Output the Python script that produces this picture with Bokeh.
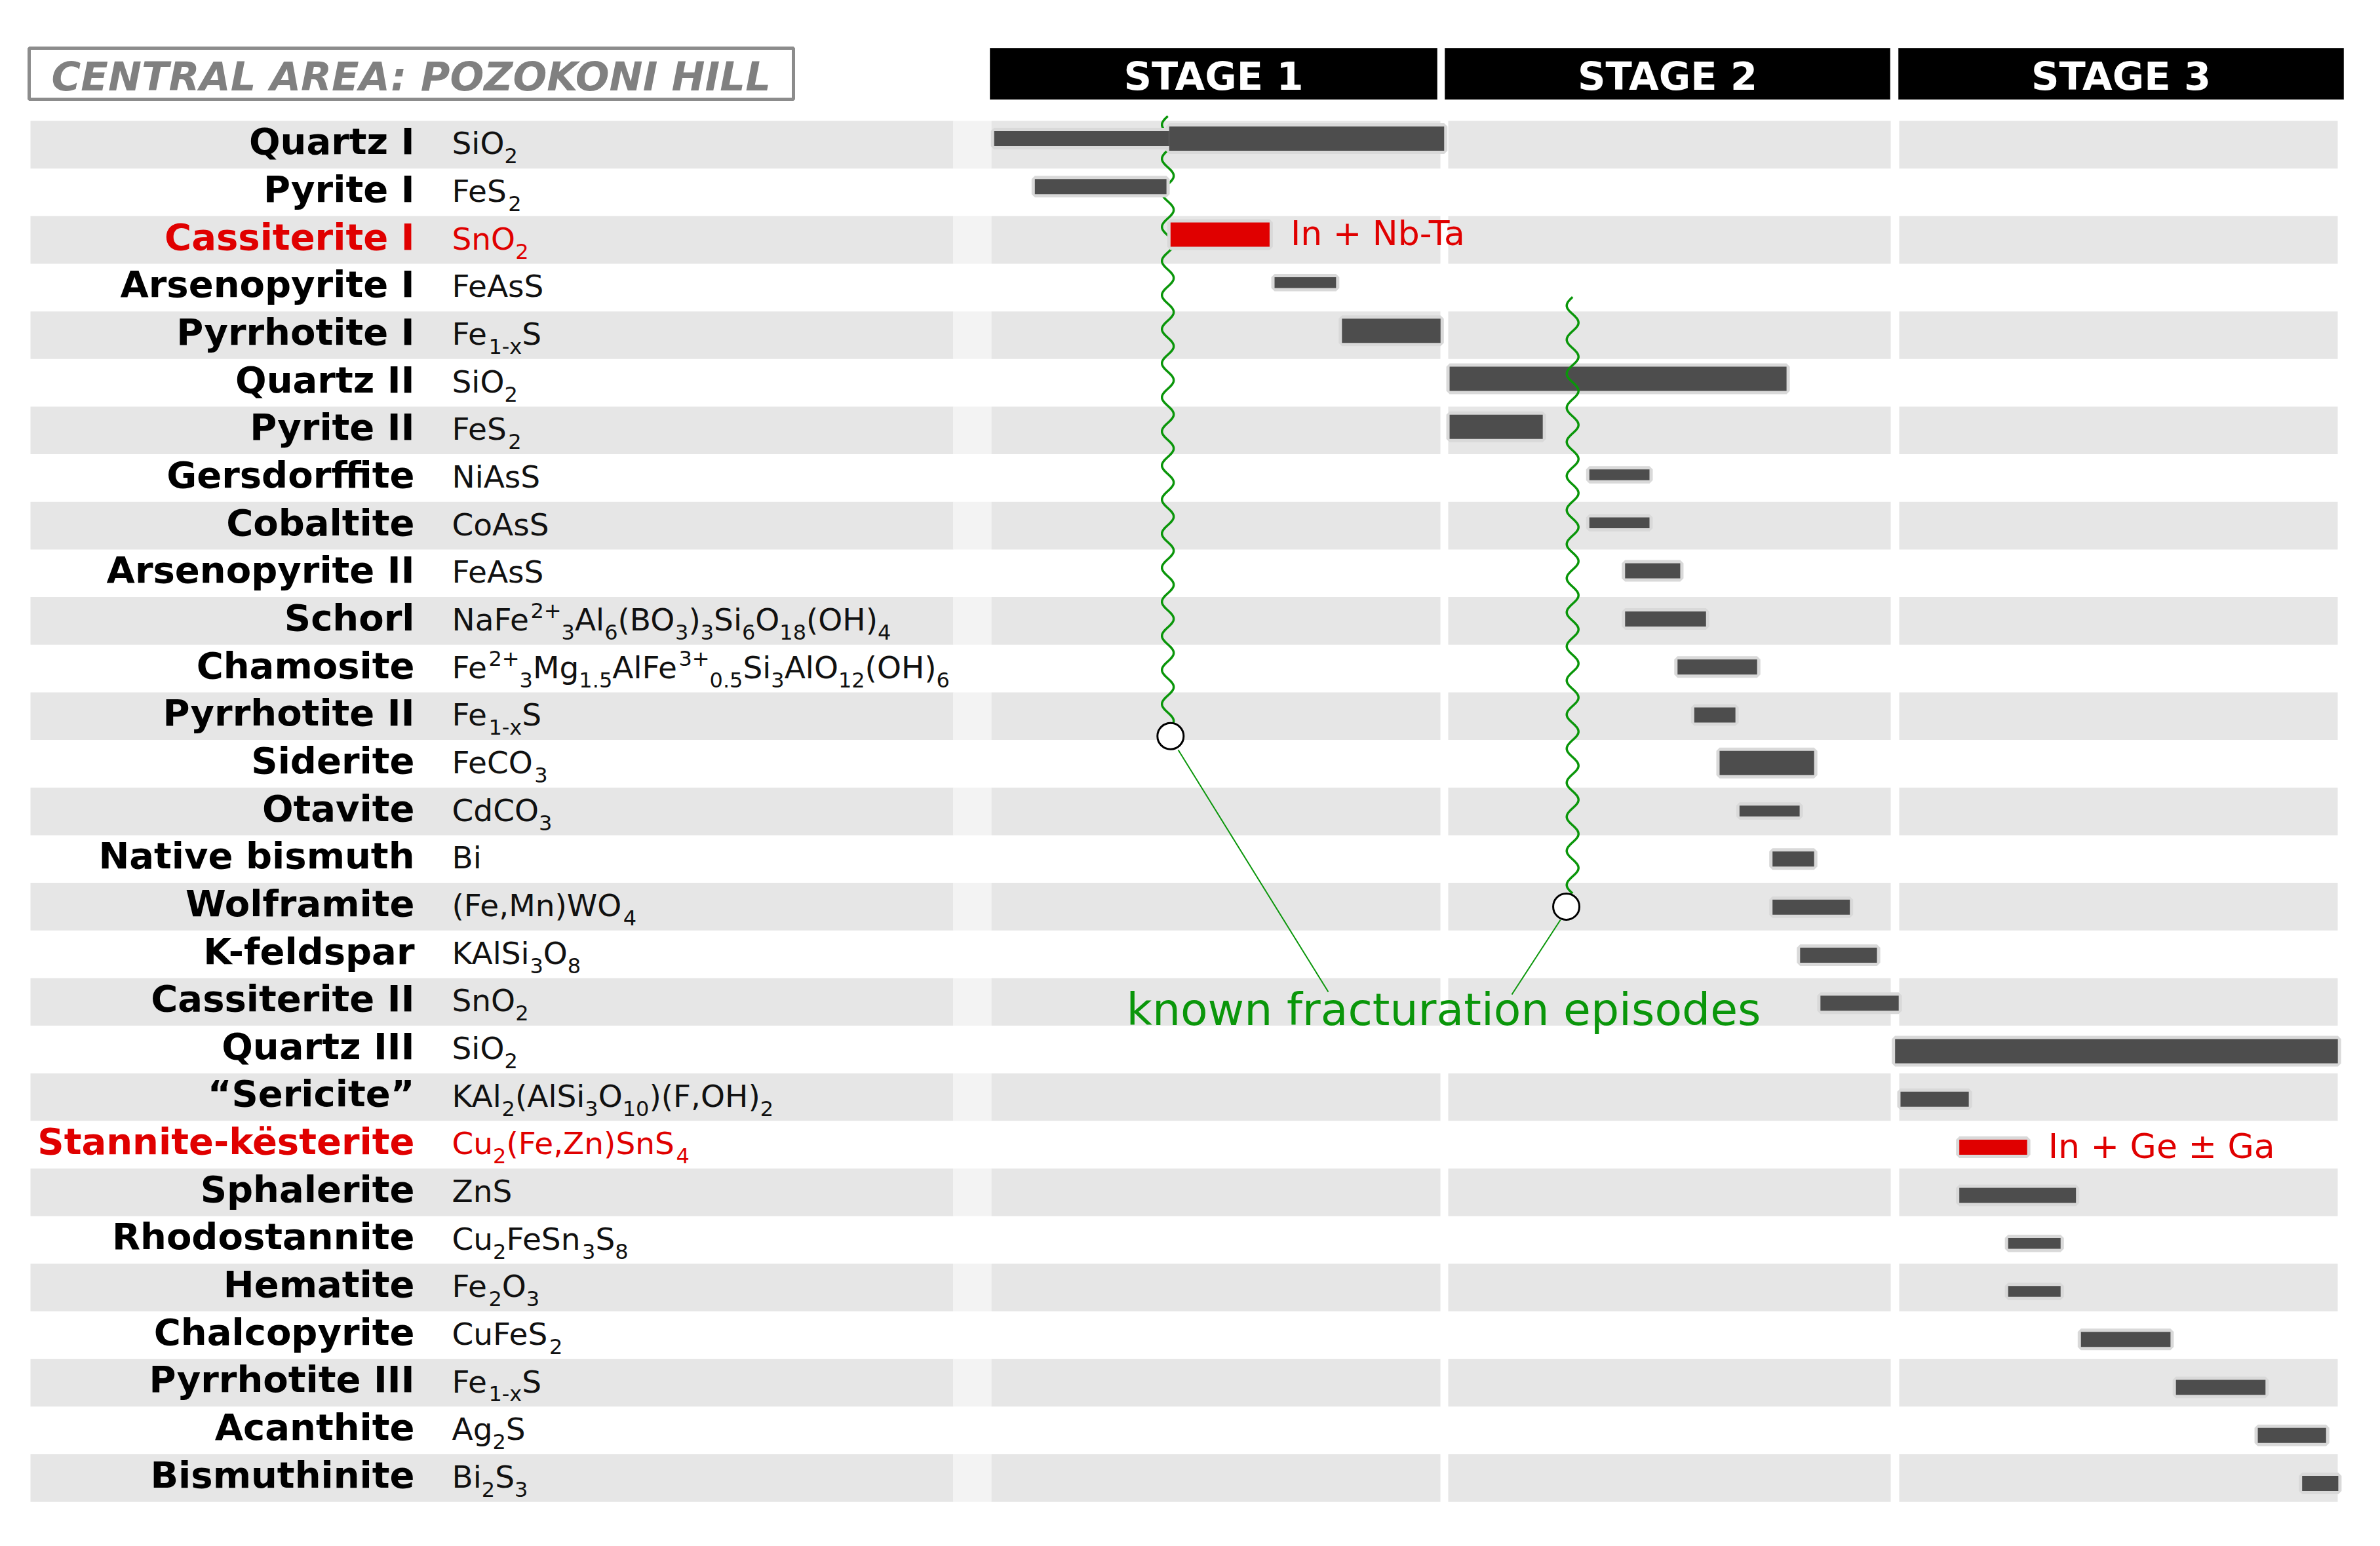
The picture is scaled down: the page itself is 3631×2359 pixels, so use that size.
import numpy as np
from bokeh.plotting import figure
from bokeh.models import Range1d, ColumnDataSource
from bokeh.core.properties import value
from bokeh.embed import file_html
from bokeh.resources import INLINE

# ---------------- data ----------------
minerals = ["Quartz I", "Pyrite I", "Cassiterite I", "Arsenopyrite I", "Pyrrhotite I",
            "Quartz II", "Pyrite II", "Gersdorffite", "Cobaltite", "Arsenopyrite II",
            "Schorl", "Chamosite", "Pyrrhotite II", "Siderite", "Otavite",
            "Native bismuth", "Wolframite", "K-feldspar", "Cassiterite II", "Quartz III",
            "\u201cSericite\u201d", "Stannite-k\u00ebsterite", "Sphalerite", "Rhodostannite",
            "Hematite", "Chalcopyrite", "Pyrrhotite III", "Acanthite", "Bismuthinite"]

formulas = ["SiO_{2}", "FeS_{2}", "SnO_{2}", "FeAsS", "Fe_{1-x}S",
            "SiO_{2}", "FeS_{2}", "NiAsS", "CoAsS", "FeAsS",
            "NaFe^{2+}_{3}Al_{6}(BO_{3})_{3}Si_{6}O_{18}(OH)_{4}",
            "Fe^{2+}_{3}Mg_{1.5}AlFe^{3+}_{0.5}Si_{3}AlO_{12}(OH)_{6}",
            "Fe_{1-x}S", "FeCO_{3}", "CdCO_{3}",
            "Bi", "(Fe,Mn)WO_{4}", "KAlSi_{3}O_{8}", "SnO_{2}", "SiO_{2}",
            "KAl_{2}(AlSi_{3}O_{10})(F,OH)_{2}", "Cu_{2}(Fe,Zn)SnS_{4}", "ZnS",
            "Cu_{2}FeSn_{3}S_{8}", "Fe_{2}O_{3}", "CuFeS_{2}", "Fe_{1-x}S", "Ag_{2}S",
            "Bi_{2}S_{3}"]

highlighted = ["Cassiterite I", "Stannite-k\u00ebsterite"]

stage_names = ["STAGE 1", "STAGE 2", "STAGE 3"]

# crystallisation periods, in stage units (stage 1 = 0..1, stage 2 = 1..2, stage 3 = 2..3)
bar_mineral = ["Quartz I", "Quartz I", "Pyrite I", "Cassiterite I", "Arsenopyrite I",
               "Pyrrhotite I", "Quartz II", "Pyrite II", "Gersdorffite", "Cobaltite",
               "Arsenopyrite II", "Schorl", "Chamosite", "Pyrrhotite II", "Siderite",
               "Otavite", "Native bismuth", "Wolframite", "K-feldspar", "Cassiterite II",
               "Quartz III", "\u201cSericite\u201d", "Stannite-k\u00ebsterite", "Sphalerite",
               "Rhodostannite", "Hematite", "Chalcopyrite", "Pyrrhotite III", "Acanthite",
               "Bismuthinite"]
bar_start = [0.009, 0.396, 0.099, 0.399, 0.629, 0.778, 1.016, 1.016, 1.325, 1.325,
             1.404, 1.404, 1.520, 1.557, 1.613, 1.657, 1.730, 1.730, 1.791, 1.836,
             2.001, 2.013, 2.143, 2.143, 2.251, 2.251, 2.412, 2.622, 2.803, 2.901]
bar_end = [0.396, 1.004, 0.390, 0.618, 0.765, 0.996, 1.761, 1.222, 1.458, 1.458,
           1.526, 1.583, 1.696, 1.648, 1.822, 1.790, 1.822, 1.901, 1.961, 2.009,
           2.980, 2.164, 2.293, 2.401, 2.367, 2.367, 2.610, 2.820, 2.954, 2.981]
bar_abundance = ["minor", "major", "minor", "major", "trace", "major", "major", "major",
                 "trace", "trace", "minor", "minor", "minor", "minor", "major", "trace",
                 "minor", "minor", "minor", "minor", "major", "minor", "minor", "minor",
                 "trace", "trace", "minor", "minor", "minor", "minor"]

enrich_mineral = ["Cassiterite I", "Stannite-k\u00ebsterite"]
enrich_text = ["In + Nb-Ta", "In + Ge \u00b1 Ga"]

# known fracturation episodes: x position (stage units), start row, end row (circle)
frac_x = [0.393, 1.288]
frac_row_top = [-0.60, 3.20]
frac_row_end = [12.42, 16.00]
frac_label = "known fracturation episodes"

# ---------------- layout helpers (reference pixels -> data units) ----------------
X0, XS = 1510.0, 690.0          # stage axis origin / px per stage
Y0, YS = 220.33, 72.66          # row centre 0 / px per row
YB0, YBS = 211.0, 73.29         # bar row centre 0 / px per row (bars layer)
BL = 0.34                       # baseline correction (fraction of font size)


def XU(px):
    return (np.asarray(px, dtype=float) - X0) / XS


def YU(px):
    return (np.asarray(px, dtype=float) - Y0) / YS


def YB(px):
    return (np.asarray(px, dtype=float) - YB0) / YBS


W = {' ': 318, '(': 390, ')': 390, '+': 838, ',': 318, '-': 361, '.': 318,
     'A': 684, 'B': 686, 'C': 698, 'D': 770, 'E': 632, 'F': 575, 'G': 775, 'H': 752,
     'I': 295, 'K': 656, 'L': 557, 'M': 863, 'N': 748, 'O': 787, 'P': 603, 'R': 695,
     'S': 635, 'T': 611, 'W': 989, 'Z': 685,
     'a': 613, 'b': 635, 'c': 550, 'd': 635, 'e': 615, 'f': 352, 'g': 635, 'h': 634,
     'i': 278, 'k': 579, 'l': 278, 'm': 974, 'n': 634, 'o': 612, 'p': 635, 'r': 411,
     's': 521, 't': 392, 'u': 634, 'x': 592, 'y': 592, 'z': 525}
for d in "0123456789":
    W[d] = 636


def parse(f):
    segs, buf, i = [], "", 0
    while i < len(f):
        c = f[i]
        if c in "_^" and i + 1 < len(f) and f[i + 1] == "{":
            if buf:
                segs.append((buf, "n"))
                buf = ""
            j = f.index("}", i)
            segs.append((f[i + 2:j], "sub" if c == "_" else "sup"))
            i = j + 1
        else:
            buf += c
            i += 1
    if buf:
        segs.append((buf, "n"))
    return segs


GRAY_BAND = "#e6e6e6"
BAR = "#4d4d4d"
RED = "#e00000"
GREEN = "#0a960a"

p = figure(width=3615, height=2343,
           x_range=Range1d(float(XU(0)), float(XU(3615))),
           y_range=Range1d(float(YU(2343)), float(YU(0))),
           output_backend="svg", toolbar_location=None, min_border=0, title=None,
           x_axis_location=None, y_axis_location=None,
           background_fill_color="white", border_fill_color="white",
           outline_line_color=None)
p.grid.visible = False
p.extra_y_ranges = {"bars": Range1d(float(YB(2343)), float(YB(0)))}

rows = list(range(len(minerals)))
gray_rows = [r for r in rows if r % 2 == 0]

# table bands
p.quad(left=float(XU(46)), right=float(XU(1454)),
       top=[r - 0.5 for r in gray_rows], bottom=[r + 0.5 for r in gray_rows],
       fill_color=GRAY_BAND, line_color=None)
p.quad(left=float(XU(1454)), right=float(XU(1512)),
       top=[r - 0.5 for r in gray_rows], bottom=[r + 0.5 for r in gray_rows],
       fill_color="#f3f3f3", line_color=None)
col_left_px = [1512, 2209, 2897]
col_right_px = [2197, 2884, 3566]
for lpx, rpx in zip(col_left_px, col_right_px):
    p.quad(left=float(XU(lpx)), right=float(XU(rpx)),
           top=[r - 0.5 for r in gray_rows], bottom=[r + 0.5 for r in gray_rows],
           fill_color=GRAY_BAND, line_color=None)

# stage headers
head_left_px = [1510, 2204, 2896]
head_right_px = [2192, 2883, 3575]
p.quad(left=list(XU(head_left_px)), right=list(XU(head_right_px)),
       top=float(YU(73)), bottom=float(YU(151)),
       fill_color="black", line_color="#3a3a3a", line_width=1)
p.text(x=list((XU(head_left_px) + XU(head_right_px)) / 2), y=float(YU(136 - BL * 59)),
       text=stage_names, text_align="center", text_baseline="alphabetic",
       text_font=value("DejaVu Sans"), text_font_style="bold",
       text_font_size=value("59px"), text_color="white")

# title box
p.quad(left=float(XU(44)), right=float(XU(1210)), top=float(YU(73)), bottom=float(YU(151)),
       fill_color="white", line_color="#8c8c8c", line_width=5)
p.text(x=float(XU(78)), y=float(YU(136.5 - BL * 61)), text=["CENTRAL AREA: POZOKONI HILL"],
       text_align="left", text_baseline="alphabetic",
       text_font=value("DejaVu Sans"), text_font_style="bold italic",
       text_font_size=value("61px"), text_color="#808080")

# mineral names
name_colors = [RED if m in highlighted else "black" for m in minerals]
p.text(x=float(XU(632)), y=[r + (14 - BL * 56) / YS for r in rows], text=minerals,
       text_align="right", text_baseline="alphabetic",
       text_font=value("DejaVu Sans"), text_font_style="bold",
       text_font_size=value("56px"), text_color=name_colors)

# formulas with sub/superscripts
MAIN, SMALL = 47, 32
fx, fy, ft, fo, fs, fc = [], [], [], [], [], []
for r, (m, f) in enumerate(zip(minerals, formulas)):
    off = 0.0
    col = RED if m in highlighted else "#111111"
    for txt, kind in parse(f):
        size = MAIN if kind == "n" else SMALL
        shift = {"n": 0, "sub": 14, "sup": -19}[kind]
        fx.append(float(XU(689)))
        fy.append(r + (14 + shift - BL * size) / YS)
        ft.append(txt)
        fo.append(off)
        fs.append(f"{size}px")
        fc.append(col)
        off += sum(W.get(ch, 600) for ch in txt) * size / 1000.0
src_f = ColumnDataSource(dict(x=fx, y=fy, text=ft, xoff=fo, fsize=fs, color=fc))
p.text(x="x", y="y", text="text", x_offset="xoff", text_font_size="fsize",
       text_color="color", text_font=value("DejaVu Sans"), text_align="left",
       text_baseline="alphabetic", source=src_f)


# fracturation wavy lines
def wave(x_stage, row_top, row_end):
    x_px = X0 + x_stage * XS
    y0 = Y0 + row_top * YS
    y1 = Y0 + row_end * YS - 20
    ys = np.arange(y0, y1, 2.0)
    xs = x_px + 9.0 * np.sin(2 * np.pi * (ys - y0) / 52.0 + np.pi)
    return list(XU(xs)), list(YU(ys))


wx, wy = wave(frac_x[0], frac_row_top[0], frac_row_end[0])
p.line(wx, wy, line_color=GREEN, line_width=3.5)

# bars
heights = {"major": 37 / YBS, "minor": 23 / YBS, "trace": 16.5 / YBS}
bar_rows = [minerals.index(m) for m in bar_mineral]
bar_h = [heights[a] for a in bar_abundance]
bar_col = [RED if m in highlighted else BAR for m in bar_mineral]
src_b = ColumnDataSource(dict(y=bar_rows, left=bar_start, right=bar_end, h=bar_h, c=bar_col))
p.hbar(y="y", left="left", right="right", height="h", source=src_b, y_range_name="bars",
       fill_color="#d9d9d9", line_color="#d9d9d9", line_width=10)
p.hbar(y="y", left="left", right="right", height="h", source=src_b, y_range_name="bars",
       fill_color="c", line_color=None)

# enrichment annotations
e_rows = [minerals.index(m) for m in enrich_mineral]
e_x = [max(e for mm, e in zip(bar_mineral, bar_end) if mm == m) for m in enrich_mineral]
p.text(x=e_x, y=[r + (16 - BL * 52) / YBS for r in e_rows], text=enrich_text, x_offset=32,
       y_range_name="bars", text_align="left", text_baseline="alphabetic",
       text_font=value("DejaVu Sans"), text_font_size=value("52px"), text_color=RED)

wx2, wy2 = wave(frac_x[1], frac_row_top[1], frac_row_end[1])
p.line(wx2, wy2, line_color=GREEN, line_width=3.5)

# circles ending the fracture lines and leader lines
circ_x = [frac_x[0] + 0.006, frac_x[1] - 0.014]
p.segment(x0=[circ_x[0] + 0.017, circ_x[1] - 0.013], y0=[frac_row_end[0] + 0.29, frac_row_end[1] + 0.28],
          x1=[float(XU(2026)), float(XU(2306))], y1=[float(YU(1513)), float(YU(1517))],
          line_color=GREEN, line_width=2)
p.scatter(x=circ_x, y=frac_row_end, size=40, marker="circle",
          fill_color="white", line_color="black", line_width=3)
p.text(x=float(XU(1718)), y=float(YU(1563 - BL * 68)), text=[frac_label],
       text_align="left", text_baseline="alphabetic",
       text_font=value("DejaVu Sans"), text_font_size=value("68px"), text_color=GREEN)

open("out.html", "w").write(file_html(p, INLINE))
